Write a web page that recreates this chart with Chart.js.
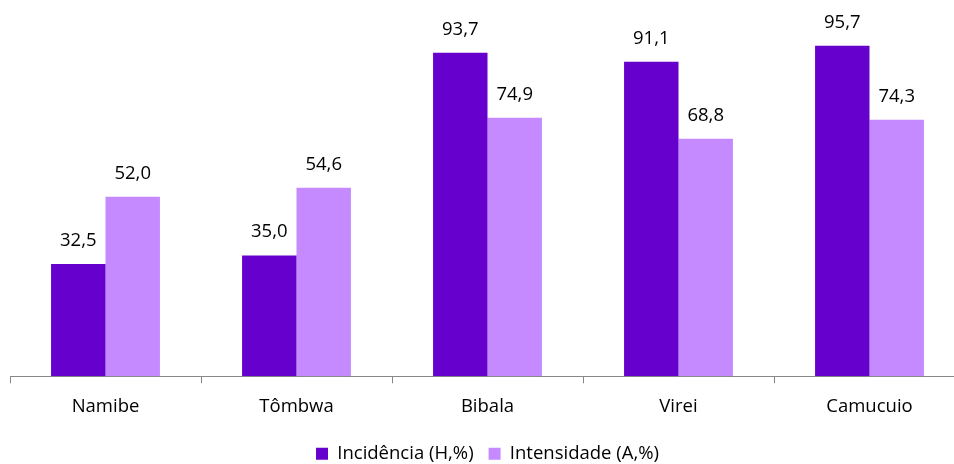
<!DOCTYPE html>
<html>
<head>
<meta charset="utf-8">
<script src="https://cdn.jsdelivr.net/npm/chart.js@4/dist/chart.umd.min.js"></script>
<style>
  html, body { margin: 0; padding: 0; background: #fff; overflow: hidden; }
  #wrap { width: 966px; height: 473px; }
</style>
</head>
<body>
<div id="wrap"><canvas id="chart"></canvas></div>
<script>
// dados
const categories = ['Namibe', 'Tômbwa', 'Bibala', 'Virei', 'Camucuio'];
const incidencia = [32.5, 35.0, 93.7, 91.1, 95.7];
const intensidade = [52.0, 54.6, 74.9, 68.8, 74.3];
const seriesNames = ['Incidência (H,%)', 'Intensidade (A,%)'];

const FONT = '"Open Sans", "Noto Sans", sans-serif';
const FSIZE = 18.5;

// rótulos de valor por cima das barras
const valueLabels = {
    id: 'valueLabels',
    afterDatasetsDraw(chart) {
        const ctx = chart.ctx;
        ctx.save();
        ctx.font = FSIZE + 'px ' + FONT;
        ctx.fillStyle = '#000';
        ctx.textAlign = 'center';
        ctx.textBaseline = 'bottom';
        chart.data.datasets.forEach((ds, i) => {
            chart.getDatasetMeta(i).data.forEach((bar, j) => {
                let txt = ds.data[j].toFixed(1).replace('.', ',');
                ctx.fillText(txt, bar.x, bar.y - 14);
            });
        });
        ctx.restore();
    }
};

new Chart(document.getElementById('chart'), {
    type: 'bar',
    data: {
        labels: categories,
        datasets: [
            { label: seriesNames[0], data: incidencia, backgroundColor: '#6600CC', borderWidth: 0 },
            { label: seriesNames[1], data: intensidade, backgroundColor: '#C58AFF', borderWidth: 0 }
        ]
    },
    options: {
        responsive: true,
        maintainAspectRatio: false,
        animation: false,
        layout: { padding: { left: 10, right: 1, top: 31, bottom: 0 } },
        datasets: { bar: { categoryPercentage: 0.57, barPercentage: 1.0 } },
        scales: {
            x: {
                grid: { display: true, drawOnChartArea: false, tickLength: 7, color: '#888', offset: true },
                border: { color: '#888', width: 1 },
                ticks: { color: '#000', font: { family: FONT, size: FSIZE }, padding: 12 }
            },
            y: { display: false, min: 0, max: 100 }
        },
        plugins: {
            legend: {
                position: 'bottom',
                labels: {
                    color: '#000',
                    font: { family: FONT, size: FSIZE },
                    boxWidth: 12, boxHeight: 12,
                    padding: 15
                }
            },
            tooltip: { enabled: false }
        }
    },
    plugins: [valueLabels]
});
</script>
</body>
</html>
